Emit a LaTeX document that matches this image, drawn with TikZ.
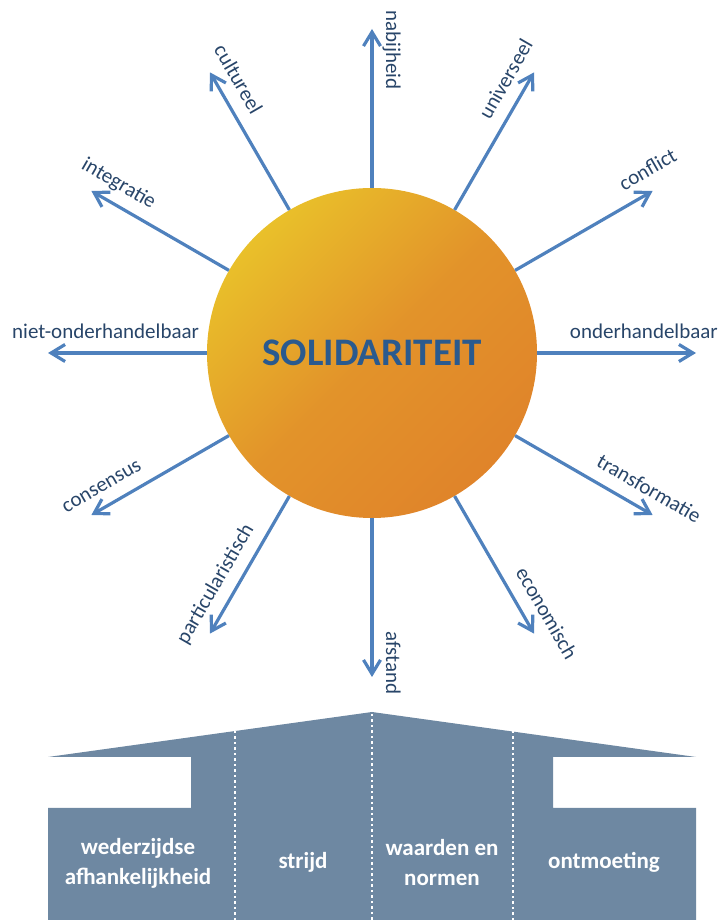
\documentclass[tikz,border=0pt]{standalone}
\usepackage{fontspec}
\setmainfont{Carlito}
\usepackage{tikz}
\usetikzlibrary{arrows.meta}
\usetikzlibrary{calc}

\definecolor{spokeblue}{HTML}{4F81BD}
\definecolor{labelblue}{HTML}{284569}
\definecolor{titleblue}{HTML}{2A5A8E}
\definecolor{sunyellow}{HTML}{E9C02A}
\definecolor{sunorange}{HTML}{E0842A}
\definecolor{houseblue}{HTML}{6E88A2}

\tikzset{
	sun/.style={circle, minimum size=330pt, inner sep=0pt,
		top color=sunyellow, bottom color=sunorange, middle color=sunorange!75!sunyellow,
		shading angle=45, text=titleblue, font=\bfseries\fontsize{39}{42}\selectfont},
	spoke/.style={draw=spokeblue, line width=3.2pt,
		-{Straight Barb[length=14pt,width=17pt,line width=3.2pt]}},
	lbl/.style={text=labelblue, font=\fontsize{21}{24}\selectfont,
		inner xsep=0pt, inner ysep=10pt, text depth=4pt},
	divider/.style={draw=white, line width=2.5pt, dash pattern=on 2.5pt off 3pt},
	houselbl/.style={text=white, align=center, font=\bfseries\fontsize{23}{30}\selectfont}
}

\begin{document}
\begin{tikzpicture}[x=1pt, y=1pt]
\useasboundingbox (0,0) rectangle (720,920);

\node[sun] (sun) at (372,567) {SOLIDARITEIT};

% spokes: angle / rotation / anchor / outer end of label / text
\foreach \ang/\rot/\anc/\rad/\txt [count=\i] in {
	90/-90/south west/343/nabijheid,
	60/60/south east/348/universeel,
	30/30/south east/362/conflict,
	0/0/south east/346/onderhandelbaar,
	330/-30/south east/366/transformatie,
	300/-60/south east/364/economisch,
	270/-90/south east/342/afstand,
	240/60/south west/346/particularistisch,
	210/30/south west/345/consensus,
	180/0/south west/360/niet-onderhandelbaar,
	150/-30/south west/345/integratie,
	120/-60/south west/342/cultureel}
{
	\coordinate (tip-\i) at ($(sun.center)+(\ang:324)$);
	\draw[spoke] (sun.\ang) -- (tip-\i);
	\node[lbl, rotate=\rot, anchor=\anc] (lbl-\i) at ($(sun.center)+(\ang:\rad)$) {\txt};
}

% the building
\fill[houseblue] (48,163) -- (372,208) -- (696,163) -- (553,163) -- (553,112)
	-- (696,112) -- (696,0) -- (48,0) -- (48,112) -- (191,112) -- (191,163) -- cycle;
\draw[divider] (235,189) -- (235,0);
\draw[divider] (372,206) -- (372,0);
\draw[divider] (513,189) -- (513,0);

\node[houselbl] (afhankelijk) at (138,57) {wederzijdse\\afhankelijkheid};
\node[houselbl] (strijd) at (303,58) {strijd};
\node[houselbl] (waarden) at (442,57) {waarden en\\normen};
\node[houselbl] (ontmoeting) at (604,58) {ontmoeting};
\end{tikzpicture}
\end{document}
